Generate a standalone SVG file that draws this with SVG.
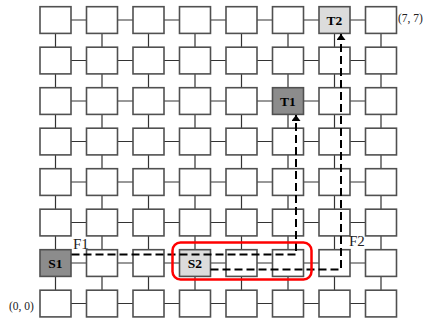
<svg xmlns="http://www.w3.org/2000/svg" width="426" height="321" viewBox="0 0 426 321">
<style>
.n{fill:#fff;stroke:#505050;stroke-width:1.6}
.d{fill:#8c8c8c}
.l{fill:#dcdcdc}
.t{font-family:"Liberation Serif",serif;font-weight:bold;font-size:13.5px;text-anchor:middle;fill:#000}
.c{font-family:"Liberation Serif",serif;font-size:11.5px;fill:#222}
.f{font-family:"Liberation Serif",serif;font-size:15px;fill:#222}
.lk{stroke:#333;stroke-width:1.2;fill:none}
.fl{stroke:#000;stroke-width:2;stroke-dasharray:8,4;fill:none}
</style>
<defs>
<marker id="ah" viewBox="0 0 6 9" refX="6" refY="4.5" markerWidth="6" markerHeight="9" markerUnits="userSpaceOnUse" orient="auto">
<path d="M0,0 L6,4.5 L0,9 Z" fill="#000"/>
</marker>
</defs>
<g id="links">
<path class="lk" d="M71,20H86.5M117.5,20H133M164,20H179.5M210.5,20H226M257,20H272.5M303.5,20H319M350,20H365.5
M71,60.5H86.5M117.5,60.5H133M164,60.5H179.5M210.5,60.5H226M257,60.5H272.5M303.5,60.5H319M350,60.5H365.5
M71,101H86.5M117.5,101H133M164,101H179.5M210.5,101H226M257,101H272.5M303.5,101H319M350,101H365.5
M71,141.5H86.5M117.5,141.5H133M164,141.5H179.5M210.5,141.5H226M257,141.5H272.5M303.5,141.5H319M350,141.5H365.5
M71,182H86.5M117.5,182H133M164,182H179.5M210.5,182H226M257,182H272.5M303.5,182H319M350,182H365.5
M71,222.5H86.5M117.5,222.5H133M164,222.5H179.5M210.5,222.5H226M257,222.5H272.5M303.5,222.5H319M350,222.5H365.5
M71,263H86.5M117.5,263H133M164,263H179.5M210.5,263H226M257,263H272.5M303.5,263H319M350,263H365.5
M71,303.5H86.5M117.5,303.5H133M164,303.5H179.5M210.5,303.5H226M257,303.5H272.5M303.5,303.5H319M350,303.5H365.5
M55.5,33.4V47.2M55.5,73.9V87.7M55.5,114.4V128.2M55.5,154.9V168.7M55.5,195.4V209.2M55.5,235.9V249.7M55.5,276.4V290.2
M102,33.4V47.2M102,73.9V87.7M102,114.4V128.2M102,154.9V168.7M102,195.4V209.2M102,235.9V249.7M102,276.4V290.2
M148.5,33.4V47.2M148.5,73.9V87.7M148.5,114.4V128.2M148.5,154.9V168.7M148.5,195.4V209.2M148.5,235.9V249.7M148.5,276.4V290.2
M195,33.4V47.2M195,73.9V87.7M195,114.4V128.2M195,154.9V168.7M195,195.4V209.2M195,235.9V249.7M195,276.4V290.2
M241.5,33.4V47.2M241.5,73.9V87.7M241.5,114.4V128.2M241.5,154.9V168.7M241.5,195.4V209.2M241.5,235.9V249.7M241.5,276.4V290.2
M288,33.4V47.2M288,73.9V87.7M288,114.4V128.2M288,154.9V168.7M288,195.4V209.2M288,235.9V249.7M288,276.4V290.2
M334.5,33.4V47.2M334.5,73.9V87.7M334.5,114.4V128.2M334.5,154.9V168.7M334.5,195.4V209.2M334.5,235.9V249.7M334.5,276.4V290.2
M381,33.4V47.2M381,73.9V87.7M381,114.4V128.2M381,154.9V168.7M381,195.4V209.2M381,235.9V249.7M381,276.4V290.2"/>
</g>
<g id="n0_7"><rect class="n" x="40" y="6.7" width="31" height="26.7"/></g>
<g id="n1_7"><rect class="n" x="86.5" y="6.7" width="31" height="26.7"/></g>
<g id="n2_7"><rect class="n" x="133" y="6.7" width="31" height="26.7"/></g>
<g id="n3_7"><rect class="n" x="179.5" y="6.7" width="31" height="26.7"/></g>
<g id="n4_7"><rect class="n" x="226" y="6.7" width="31" height="26.7"/></g>
<g id="n5_7"><rect class="n" x="272.5" y="6.7" width="31" height="26.7"/></g>
<g id="T2"><rect class="n l" x="319" y="6.7" width="31" height="26.7"/><text class="t" x="334.5" y="24.7">T2</text></g>
<g id="n7_7"><rect class="n" x="365.5" y="6.7" width="31" height="26.7"/></g>
<g id="n0_6"><rect class="n" x="40" y="47.2" width="31" height="26.7"/></g>
<g id="n1_6"><rect class="n" x="86.5" y="47.2" width="31" height="26.7"/></g>
<g id="n2_6"><rect class="n" x="133" y="47.2" width="31" height="26.7"/></g>
<g id="n3_6"><rect class="n" x="179.5" y="47.2" width="31" height="26.7"/></g>
<g id="n4_6"><rect class="n" x="226" y="47.2" width="31" height="26.7"/></g>
<g id="n5_6"><rect class="n" x="272.5" y="47.2" width="31" height="26.7"/></g>
<g id="n6_6"><rect class="n" x="319" y="47.2" width="31" height="26.7"/></g>
<g id="n7_6"><rect class="n" x="365.5" y="47.2" width="31" height="26.7"/></g>
<g id="n0_5"><rect class="n" x="40" y="87.7" width="31" height="26.7"/></g>
<g id="n1_5"><rect class="n" x="86.5" y="87.7" width="31" height="26.7"/></g>
<g id="n2_5"><rect class="n" x="133" y="87.7" width="31" height="26.7"/></g>
<g id="n3_5"><rect class="n" x="179.5" y="87.7" width="31" height="26.7"/></g>
<g id="n4_5"><rect class="n" x="226" y="87.7" width="31" height="26.7"/></g>
<g id="T1"><rect class="n d" x="272.5" y="87.7" width="31" height="26.7"/><text class="t" x="288" y="105.7">T1</text></g>
<g id="n6_5"><rect class="n" x="319" y="87.7" width="31" height="26.7"/></g>
<g id="n7_5"><rect class="n" x="365.5" y="87.7" width="31" height="26.7"/></g>
<g id="n0_4"><rect class="n" x="40" y="128.2" width="31" height="26.7"/></g>
<g id="n1_4"><rect class="n" x="86.5" y="128.2" width="31" height="26.7"/></g>
<g id="n2_4"><rect class="n" x="133" y="128.2" width="31" height="26.7"/></g>
<g id="n3_4"><rect class="n" x="179.5" y="128.2" width="31" height="26.7"/></g>
<g id="n4_4"><rect class="n" x="226" y="128.2" width="31" height="26.7"/></g>
<g id="n5_4"><rect class="n" x="272.5" y="128.2" width="31" height="26.7"/></g>
<g id="n6_4"><rect class="n" x="319" y="128.2" width="31" height="26.7"/></g>
<g id="n7_4"><rect class="n" x="365.5" y="128.2" width="31" height="26.7"/></g>
<g id="n0_3"><rect class="n" x="40" y="168.7" width="31" height="26.7"/></g>
<g id="n1_3"><rect class="n" x="86.5" y="168.7" width="31" height="26.7"/></g>
<g id="n2_3"><rect class="n" x="133" y="168.7" width="31" height="26.7"/></g>
<g id="n3_3"><rect class="n" x="179.5" y="168.7" width="31" height="26.7"/></g>
<g id="n4_3"><rect class="n" x="226" y="168.7" width="31" height="26.7"/></g>
<g id="n5_3"><rect class="n" x="272.5" y="168.7" width="31" height="26.7"/></g>
<g id="n6_3"><rect class="n" x="319" y="168.7" width="31" height="26.7"/></g>
<g id="n7_3"><rect class="n" x="365.5" y="168.7" width="31" height="26.7"/></g>
<g id="n0_2"><rect class="n" x="40" y="209.2" width="31" height="26.7"/></g>
<g id="n1_2"><rect class="n" x="86.5" y="209.2" width="31" height="26.7"/></g>
<g id="n2_2"><rect class="n" x="133" y="209.2" width="31" height="26.7"/></g>
<g id="n3_2"><rect class="n" x="179.5" y="209.2" width="31" height="26.7"/></g>
<g id="n4_2"><rect class="n" x="226" y="209.2" width="31" height="26.7"/></g>
<g id="n5_2"><rect class="n" x="272.5" y="209.2" width="31" height="26.7"/></g>
<g id="n6_2"><rect class="n" x="319" y="209.2" width="31" height="26.7"/></g>
<g id="n7_2"><rect class="n" x="365.5" y="209.2" width="31" height="26.7"/></g>
<g id="S1"><rect class="n d" x="40" y="249.7" width="31" height="26.7"/><text class="t" x="55.5" y="267.7">S1</text></g>
<g id="n1_1"><rect class="n" x="86.5" y="249.7" width="31" height="26.7"/></g>
<g id="n2_1"><rect class="n" x="133" y="249.7" width="31" height="26.7"/></g>
<g id="S2"><rect class="n l" x="179.5" y="249.7" width="31" height="26.7"/><text class="t" x="195" y="267.7">S2</text></g>
<g id="n4_1"><rect class="n" x="226" y="249.7" width="31" height="26.7"/></g>
<g id="n5_1"><rect class="n" x="272.5" y="249.7" width="31" height="26.7"/></g>
<g id="n6_1"><rect class="n" x="319" y="249.7" width="31" height="26.7"/></g>
<g id="n7_1"><rect class="n" x="365.5" y="249.7" width="31" height="26.7"/></g>
<g id="n0_0"><rect class="n" x="40" y="290.2" width="31" height="26.7"/></g>
<g id="n1_0"><rect class="n" x="86.5" y="290.2" width="31" height="26.7"/></g>
<g id="n2_0"><rect class="n" x="133" y="290.2" width="31" height="26.7"/></g>
<g id="n3_0"><rect class="n" x="179.5" y="290.2" width="31" height="26.7"/></g>
<g id="n4_0"><rect class="n" x="226" y="290.2" width="31" height="26.7"/></g>
<g id="n5_0"><rect class="n" x="272.5" y="290.2" width="31" height="26.7"/></g>
<g id="n6_0"><rect class="n" x="319" y="290.2" width="31" height="26.7"/></g>
<g id="n7_0"><rect class="n" x="365.5" y="290.2" width="31" height="26.7"/></g>
<g id="flows">
<path class="fl" d="M71.5,254.5H296V115" marker-end="url(#ah)"/>
<path class="fl" d="M210.5,269.5H341V34" marker-end="url(#ah)"/>
</g>
<g id="region"><rect x="172.5" y="242.5" width="139" height="37" rx="8" ry="8" fill="none" stroke="#f00" stroke-width="2.5"/></g>
<g id="labels">
<text class="f" x="73" y="249">F1</text>
<text class="f" x="349" y="246">F2</text>
<text class="c" x="398" y="22">(7, 7)</text>
<text class="c" x="9" y="310">(0, 0)</text>
</g>
</svg>
